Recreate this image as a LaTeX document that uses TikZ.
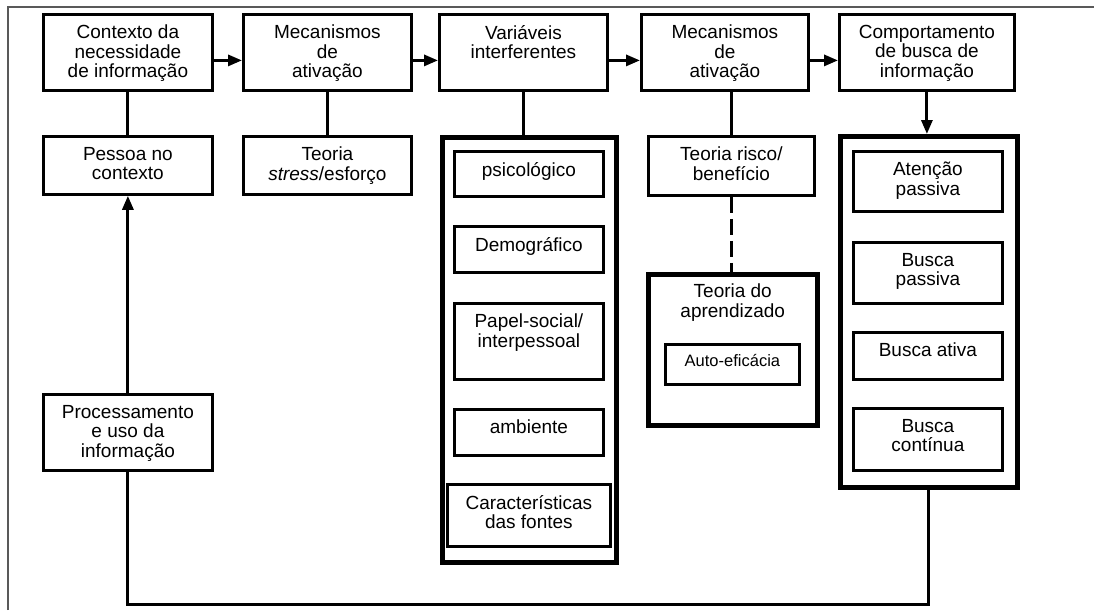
\documentclass[tikz,border=0pt]{standalone}
\usepackage{fontspec}
\setmainfont{Liberation Sans}
\usepackage{tikz}
\usetikzlibrary{arrows.meta,calc}
\tikzset{caixa/.style={
    draw=black,
    line width=2.8pt,
    inner sep=0pt,
    anchor=north west}}
\tikzset{grossa/.style={
    caixa,
    line width=4.5pt}}
\tikzset{rotulo/.style={
    anchor=north,
    align=center,
    inner sep=0pt,
    yshift=-12pt,
    font=\fontsize{19}{19.5}\selectfont}}
\tikzset{liga/.style={
    draw=black,
    line width=3pt}}
\tikzset{seta/.style={
    liga,
    -{Triangle[length=14pt,width=11pt]}}}
\tikzset{moldura/.style={
    draw=black!65,
    line width=1.5pt}}

\begin{document}
\begin{tikzpicture}[x=1pt,y=-1pt]
\useasboundingbox (0,0) rectangle (1094,610);
\draw[moldura] (8,610) -- (8,7) -- (1094,7);

% linha de cima
\node[caixa, minimum width=169pt, minimum height=76pt,
  label={[rotulo]north:{Contexto da\\necessidade\\de informação}}] (ctx) at (42,13) {};
\node[caixa, minimum width=168pt, minimum height=76pt,
  label={[rotulo]north:{Mecanismos\\de\\ativação}}] (mecA) at (242,13) {};
\node[caixa, minimum width=168pt, minimum height=76pt,
  label={[rotulo]north:{Variáveis\\interferentes}}] (var) at (438,13) {};
\node[caixa, minimum width=167pt, minimum height=76pt,
  label={[rotulo]north:{Mecanismos\\de\\ativação}}] (mecB) at (640,13) {};
\node[caixa, minimum width=175pt, minimum height=76pt,
  label={[rotulo]north:{Comportamento\\de busca de\\informação}}] (comp) at (838,13) {};

\draw[seta] ([yshift=-8pt]ctx.east) -- ([yshift=-8pt]mecA.west);
\draw[seta] ([yshift=-8pt]mecA.east) -- ([yshift=-8pt]var.west);
\draw[seta] ([yshift=-8pt]var.east) -- ([yshift=-8pt]mecB.west);
\draw[seta] ([yshift=-8pt]mecB.east) -- ([yshift=-8pt]comp.west);

% coluna 1 e 2
\node[caixa, minimum width=169pt, minimum height=58pt,
  label={[rotulo]north:{Pessoa no\\contexto}}] (pessoa) at (42,135) {};
\node[caixa, minimum width=168pt, minimum height=58pt,
  label={[rotulo]north:{Teoria\\\textit{stress}/esforço}}] (stress) at (242,135) {};
\node[caixa, minimum width=169pt, minimum height=76pt,
  label={[rotulo]north:{Processamento\\e uso da\\informação}}] (proc) at (42,393) {};

\draw[liga] (ctx) -- (pessoa);
\draw[liga] (mecA) -- (stress);
\draw[seta] (proc.north) -- (pessoa.south);

% variaveis
\node[grossa, minimum width=174pt, minimum height=425pt] (varbox) at (440,135) {};
\node[caixa, minimum width=149pt, minimum height=45pt,
  label={[rotulo]north:{psicológico}}] (psico) at (453,150) {};
\node[caixa, minimum width=149pt, minimum height=46pt,
  label={[rotulo]north:{Demográfico}}] (demog) at (453,225) {};
\node[caixa, minimum width=149pt, minimum height=76pt,
  label={[rotulo]north:{Papel-social/\\interpessoal}}] (papel) at (453,302) {};
\node[caixa, minimum width=149pt, minimum height=46pt,
  label={[rotulo]north:{ambiente}}] (ambiente) at (453,408) {};
\node[caixa, minimum width=163pt, minimum height=62pt,
  label={[rotulo]north:{Características\\das fontes}}] (caract) at (446,483) {};

\draw[liga] (var.south) -- (var.south |- varbox.north);

% risco e aprendizado
\node[caixa, minimum width=166pt, minimum height=59pt,
  label={[rotulo]north:{Teoria risco/\\benefício}}] (risco) at (647,135) {};
\node[grossa, minimum width=169pt, minimum height=151pt,
  label={[rotulo]north:{Teoria do\\aprendizado}}] (aprend) at (646,272) {};
\node[caixa, minimum width=134pt, minimum height=40pt,
  label={[rotulo, font=\fontsize{16.5}{18}\selectfont, yshift=1pt]north:{Auto-eficácia}}] (auto) at (664,343) {};

\draw[liga] (risco.north |- mecB.south) -- (risco.north);
\draw[liga, dash pattern=on 16pt off 6pt] (risco.south) -- (risco.south |- aprend.north);

% busca
\node[grossa, minimum width=177pt, minimum height=351pt] (busca) at (838,134) {};
\node[caixa, minimum width=149pt, minimum height=60pt,
  label={[rotulo]north:{Atenção\\passiva}}] (atencao) at (852,150) {};
\node[caixa, minimum width=149pt, minimum height=61pt,
  label={[rotulo]north:{Busca\\passiva}}] (bpassiva) at (852,241) {};
\node[caixa, minimum width=149pt, minimum height=47pt,
  label={[rotulo]north:{Busca ativa}}] (bativa) at (852,331) {};
\node[caixa, minimum width=149pt, minimum height=62pt,
  label={[rotulo]north:{Busca\\contínua}}] (bcontinua) at (852,407) {};

\draw[seta] (comp.south) -- (comp.south |- busca.north);

% retorno
\coordinate (canto) at (busca.south |- 0,604);
\draw[liga] (busca.south) -- (canto) -| (proc.south);

\end{tikzpicture}
\end{document}
